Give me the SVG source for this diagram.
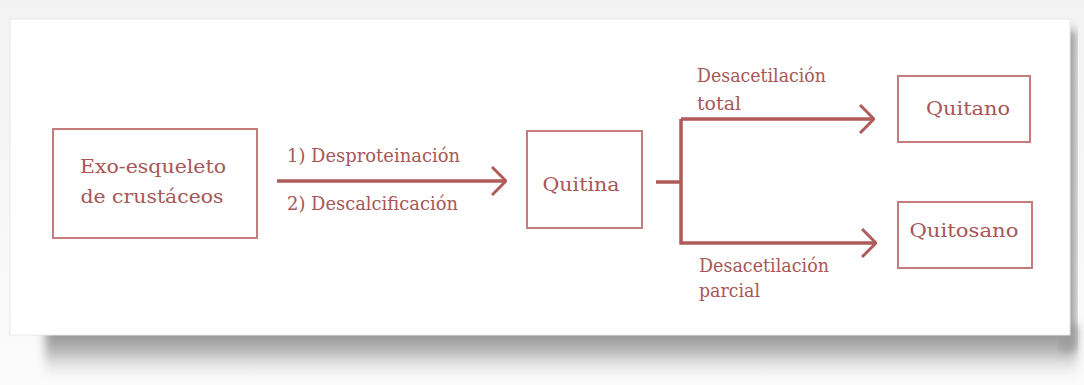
<svg xmlns="http://www.w3.org/2000/svg" width="1084" height="385" viewBox="0 0 1084 385">
<defs>
<linearGradient id="bg" x1="0" y1="0" x2="0" y2="1">
<stop offset="0" stop-color="#f2f2f2"/><stop offset="1" stop-color="#fbfbfb"/>
</linearGradient>
<linearGradient id="sh" x1="0" y1="0" x2="0" y2="1">
<stop offset="0" stop-color="#888888"/><stop offset="0.45" stop-color="#b8b8b8"/><stop offset="1" stop-color="#f6f6f6" stop-opacity="0"/>
</linearGradient>
<filter id="blur" x="-10%" y="-40%" width="120%" height="180%"><feGaussianBlur stdDeviation="5"/></filter>
<marker id="chev" viewBox="0 0 16 30" refX="15" refY="15" markerWidth="16" markerHeight="30" markerUnits="userSpaceOnUse" orient="auto">
<path d="M1,1 L15,15 L1,29" fill="none" stroke="#b05a5a" stroke-width="3"/>
</marker>
<style>
.box{fill:#ffffff;stroke:#c47c7c;stroke-width:2}
.t{font-family:"DejaVu Serif","Liberation Serif",serif;fill:#a85656;font-size:19px}
.c{fill:none;stroke:#b05a5a;stroke-width:3.5}
</style>
</defs>
<rect x="0" y="0" width="1084" height="385" fill="url(#bg)"/>
<rect x="45" y="326" width="1032" height="56" fill="url(#sh)" filter="url(#blur)"/>
<rect x="1060" y="30" width="16" height="320" fill="#9c9c9c" filter="url(#blur)"/>
<rect x="10" y="19" width="1060" height="316" fill="#ffffff" stroke="#e8e8e8" stroke-width="1"/>
<g id="exo">
<rect class="box" x="53" y="129" width="204" height="109"/>
<text class="t" x="153" y="173" text-anchor="middle" textLength="146" lengthAdjust="spacingAndGlyphs">Exo-esqueleto</text>
<text class="t" x="152" y="203" text-anchor="middle" textLength="143" lengthAdjust="spacingAndGlyphs">de crustáceos</text>
</g>
<g id="quitina">
<rect class="box" x="527" y="131" width="115" height="97"/>
<text class="t" x="581" y="191" text-anchor="middle" textLength="77" lengthAdjust="spacingAndGlyphs">Quitina</text>
</g>
<g id="quitano">
<rect class="box" x="898" y="76" width="132" height="66"/>
<text class="t" x="968" y="115" text-anchor="middle" textLength="84" lengthAdjust="spacingAndGlyphs">Quitano</text>
</g>
<g id="quitosano">
<rect class="box" x="898" y="202" width="134" height="66"/>
<text class="t" x="964" y="237" text-anchor="middle" textLength="109" lengthAdjust="spacingAndGlyphs">Quitosano</text>
</g>
<g id="connectors">
<line class="c" x1="277" y1="181" x2="506" y2="181" marker-end="url(#chev)"/>
<line class="c" x1="656" y1="182" x2="681" y2="182"/>
<polyline class="c" points="681,119 681,243 876,243" marker-end="url(#chev)"/>
<line class="c" x1="681" y1="119" x2="874" y2="119" marker-end="url(#chev)"/>
</g>
<g id="labels">
<text class="t" x="287" y="162" textLength="173" lengthAdjust="spacingAndGlyphs">1) Desproteinación</text>
<text class="t" x="287" y="210" textLength="171" lengthAdjust="spacingAndGlyphs">2) Descalcificación</text>
<text class="t" x="697" y="82" textLength="129" lengthAdjust="spacingAndGlyphs">Desacetilación</text>
<text class="t" x="697" y="110" textLength="44" lengthAdjust="spacingAndGlyphs">total</text>
<text class="t" x="699" y="272" textLength="130" lengthAdjust="spacingAndGlyphs">Desacetilación</text>
<text class="t" x="699" y="297" textLength="61" lengthAdjust="spacingAndGlyphs">parcial</text>
</g>
</svg>
